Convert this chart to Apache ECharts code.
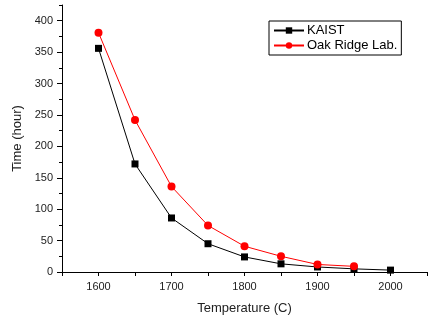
<!DOCTYPE html>
<html>
<head>
<meta charset="utf-8">
<script src="https://cdn.jsdelivr.net/npm/echarts@6/dist/echarts.min.js"></script>
<style>
  html, body { margin: 0; padding: 0; background: #fff; }
  #chart { width: 430px; height: 320px; }
</style>
</head>
<body>
<div id="chart"></div>
<script>
// 温度 (C)
const tempsKaist = [1600, 1650, 1700, 1750, 1800, 1850, 1900, 1950, 2000];
const timeKaist = [356, 172, 86, 45, 24, 13, 8, 5, 3];
const tempsOak = [1600, 1650, 1700, 1750, 1800, 1850, 1900, 1950];
const timeOak = [381, 242, 136, 74, 41, 25, 12, 9];

const font = "'Liberation Sans', Arial, sans-serif";
const textColor = "#222";

function pairs(xs, ys) {
  return xs.map((x, i) => [x, ys[i]]);
}

const chart = echarts.init(document.getElementById("chart"));
chart.setOption({
  animation: false,
  grid: { left: 62, right: 1, top: 5, bottom: 45, containLabel: false },
  legend: {
    orient: "vertical",
    left: 269,
    top: 21,
    width: 135,
    padding: [3, 4, 3, 4],
    itemGap: 2,
    itemWidth: 30,
    itemHeight: 8,
    borderColor: "#000",
    borderWidth: 1,
    backgroundColor: "#fff",
    textStyle: { fontFamily: font, fontSize: 13, color: "#000", padding: [0, 0, 0, -2] },
    data: ["KAIST", "Oak Ridge Lab."],
  },
  xAxis: {
    type: "value",
    min: 1550,
    max: 2050,
    interval: 50,
    name: "Temperature (C)",
    nameLocation: "middle",
    nameGap: 30,
    nameTextStyle: { fontFamily: font, fontSize: 13, color: textColor },
    axisLine: { lineStyle: { color: "#000", width: 1 } },
    axisTick: { length: 4, lineStyle: { color: "#000" } },
    axisLabel: {
      fontFamily: font,
      fontSize: 11,
      color: textColor,
      margin: 9,
      formatter: (v) => (v % 100 === 0 ? String(v) : ""),
    },
    splitLine: { show: false },
  },
  yAxis: [
    {
      type: "value",
      min: 0,
      max: 425,
      interval: 50,
      name: "Time (hour)",
      nameLocation: "middle",
      nameGap: 37,
      nameTextStyle: { fontFamily: font, fontSize: 13, color: textColor },
      axisLine: { show: true, lineStyle: { color: "#000", width: 1 } },
      axisTick: { length: 5, lineStyle: { color: "#000" } },
      axisLabel: { fontFamily: font, fontSize: 11, color: textColor, margin: 9, showMaxLabel: false },
      splitLine: { show: false },
    },
    {
      type: "value",
      min: 0,
      max: 425,
      interval: 25,
      position: "left",
      axisLine: { show: false },
      axisTick: { length: 3, lineStyle: { color: "#000" } },
      axisLabel: { show: false },
      splitLine: { show: false },
    },
  ],
  series: [
    {
      name: "KAIST",
      type: "line",
      data: pairs(tempsKaist, timeKaist),
      symbol: "rect",
      symbolSize: 7,
      itemStyle: { color: "#000" },
      lineStyle: { color: "#000", width: 1 },
    },
    {
      name: "Oak Ridge Lab.",
      type: "line",
      data: pairs(tempsOak, timeOak),
      symbol: "circle",
      symbolSize: 8,
      itemStyle: { color: "#ff0000" },
      lineStyle: { color: "#ff0000", width: 1 },
    },
  ],
});
</script>
</body>
</html>
